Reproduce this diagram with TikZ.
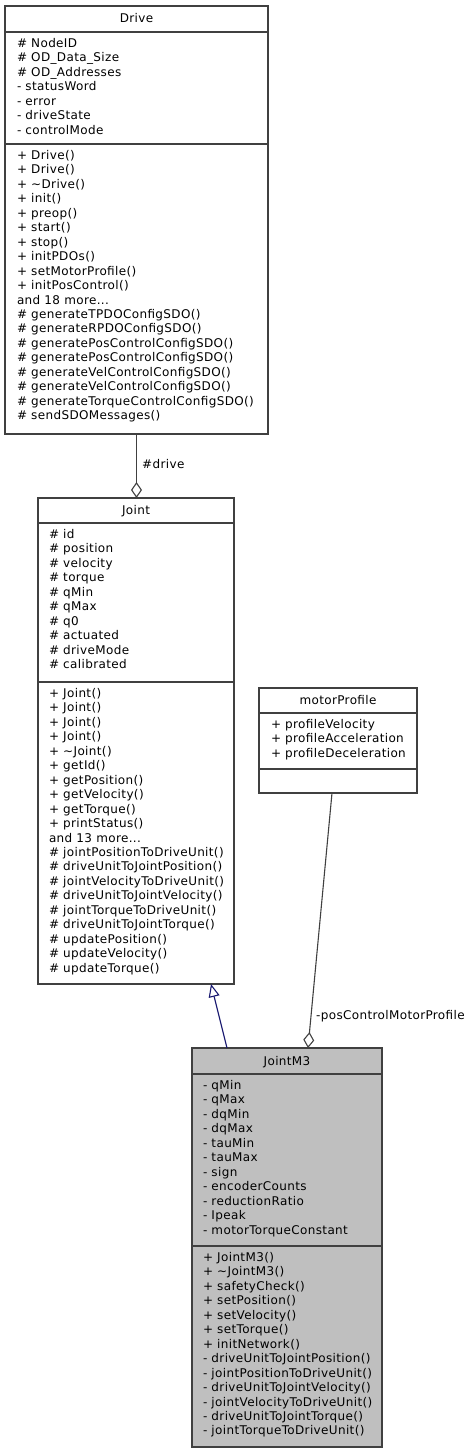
\documentclass[tikz,border=0pt]{standalone}
\usepackage{fontspec}
\setmainfont{DejaVu Sans}[LetterSpace=3]
\usetikzlibrary{arrows.meta,calc}
\definecolor{edgegray}{HTML}{404040}
\definecolor{inhblue}{HTML}{191970}
\definecolor{derivfill}{HTML}{BFBFBF}
\newcommand\tdots{...}
\newcommand\classmembers[4]{%
  \foreach \t [count=\i] in {#4} {%
    \node[member] (#1\i) at (#2,{#3+(\i-1)*14.45}) {\t};
  }}
\begin{document}
\begin{tikzpicture}[x=1pt,y=-1pt,
  every node/.style={font=\fontsize{12}{13}\selectfont},
  classbox/.style={draw=edgegray, line width=1.1pt, anchor=north west, inner sep=0pt, outer sep=0pt},
  member/.style={anchor=base west, inner sep=0pt, outer sep=0pt},
  title/.style={anchor=base, inner sep=0pt},
  sep/.style={draw=edgegray, line width=1.1pt},
  agg/.style={draw=edgegray, line width=1.1pt, -{Diamond[open,length=16pt,width=11pt]}},
  inh/.style={draw=inhblue, line width=1.1pt, -{Triangle[open,length=13pt,width=11pt]}},
  lbl/.style={anchor=base west, inner sep=0pt}]
\useasboundingbox (0,0) rectangle (471,1453);

% ---------- Drive ----------
\node[classbox, minimum width=263pt, minimum height=428pt] (drive) at (5,6) {};
\draw[sep] ($(drive.north west)+(0,26)$) -- ($(drive.north east)+(0,26)$);
\draw[sep] ($(drive.north west)+(0,138)$) -- ($(drive.north east)+(0,138)$);
\node[title] (driveT) at ($(drive.north)+(0,17)$) {Drive};
\classmembers{dA}{17}{47.5}{\# NodeID, \# OD\_Data\_Size, \# OD\_Addresses, - statusWord, - error, - driveState, - controlMode}
\classmembers{dM}{17}{159.5}{+ Drive(), + Drive(), + \textasciitilde Drive(), + init(), + preop(), + start(), + stop(), + initPDOs(), + setMotorProfile(), + initPosControl(), and 18 more\tdots, \# generateTPDOConfigSDO(), \# generateRPDOConfigSDO(), \# generatePosControlConfigSDO(), \# generatePosControlConfigSDO(), \# generateVelControlConfigSDO(), \# generateVelControlConfigSDO(), \# generateTorqueControlConfigSDO(), \# sendSDOMessages()}

% ---------- Joint ----------
\node[classbox, minimum width=196pt, minimum height=486pt] (joint) at (38,498) {};
\draw[sep] ($(joint.north west)+(0,25)$) -- ($(joint.north east)+(0,25)$);
\draw[sep] ($(joint.north west)+(0,184)$) -- ($(joint.north east)+(0,184)$);
\node[title] (jointT) at ($(joint.north)+(0,16.5)$) {Joint};
\classmembers{jA}{49}{538.5}{\# id, \# position, \# velocity, \# torque, \# qMin, \# qMax, \# q0, \# actuated, \# driveMode, \# calibrated}
\classmembers{jM}{49}{697.5}{+ Joint(), + Joint(), + Joint(), + Joint(), + \textasciitilde Joint(), + getId(), + getPosition(), + getVelocity(), + getTorque(), + printStatus(), and 13 more\tdots, \# jointPositionToDriveUnit(), \# driveUnitToJointPosition(), \# jointVelocityToDriveUnit(), \# driveUnitToJointVelocity(), \# jointTorqueToDriveUnit(), \# driveUnitToJointTorque(), \# updatePosition(), \# updateVelocity(), \# updateTorque()}

% ---------- motorProfile ----------
\node[classbox, minimum width=158pt, minimum height=105pt] (mp) at (259,688) {};
\draw[sep] ($(mp.north west)+(0,25)$) -- ($(mp.north east)+(0,25)$);
\draw[sep] ($(mp.north west)+(0,81)$) -- ($(mp.north east)+(0,81)$);
\node[title] (mpT) at ($(mp.north)+(0,16.5)$) {motorProfile};
\classmembers{mA}{271}{728.5}{+ profileVelocity, + profileAcceleration, + profileDeceleration}

% ---------- JointM3 ----------
\node[classbox, fill=derivfill, minimum width=190pt, minimum height=399pt] (jm3) at (192,1048) {};
\draw[sep] ($(jm3.north west)+(0,26)$) -- ($(jm3.north east)+(0,26)$);
\draw[sep] ($(jm3.north west)+(0,198)$) -- ($(jm3.north east)+(0,198)$);
\node[title] (jm3T) at ($(jm3.north)+(0,17)$) {JointM3};
\classmembers{kA}{203}{1089.5}{- qMin, - qMax, - dqMin, - dqMax, - tauMin, - tauMax, - sign, - encoderCounts, - reductionRatio, - Ipeak, - motorTorqueConstant}
\classmembers{kM}{203}{1261.5}{+ JointM3(), + \textasciitilde JointM3(), + safetyCheck(), + setPosition(), + setVelocity(), + setTorque(), + initNetwork(), - driveUnitToJointPosition(), - jointPositionToDriveUnit(), - driveUnitToJointVelocity(), - jointVelocityToDriveUnit(), - driveUnitToJointTorque(), - jointTorqueToDriveUnit()}

% ---------- connectors ----------
\draw[agg] (drive.south) -- (drive.south |- joint.north);
\node[lbl] (lDrive) at (142,468) {\#drive};
\draw[inh] ($(jm3.north west)+(35,0)$) -- ($(joint.south west)+(173,0)$);
\draw[agg] ($(mp.south west)+(73,0)$) -- ($(jm3.north west)+(116,0)$);
\node[lbl] (lMP) at (316,1019) {-posControlMotorProfile};
\end{tikzpicture}
\end{document}
